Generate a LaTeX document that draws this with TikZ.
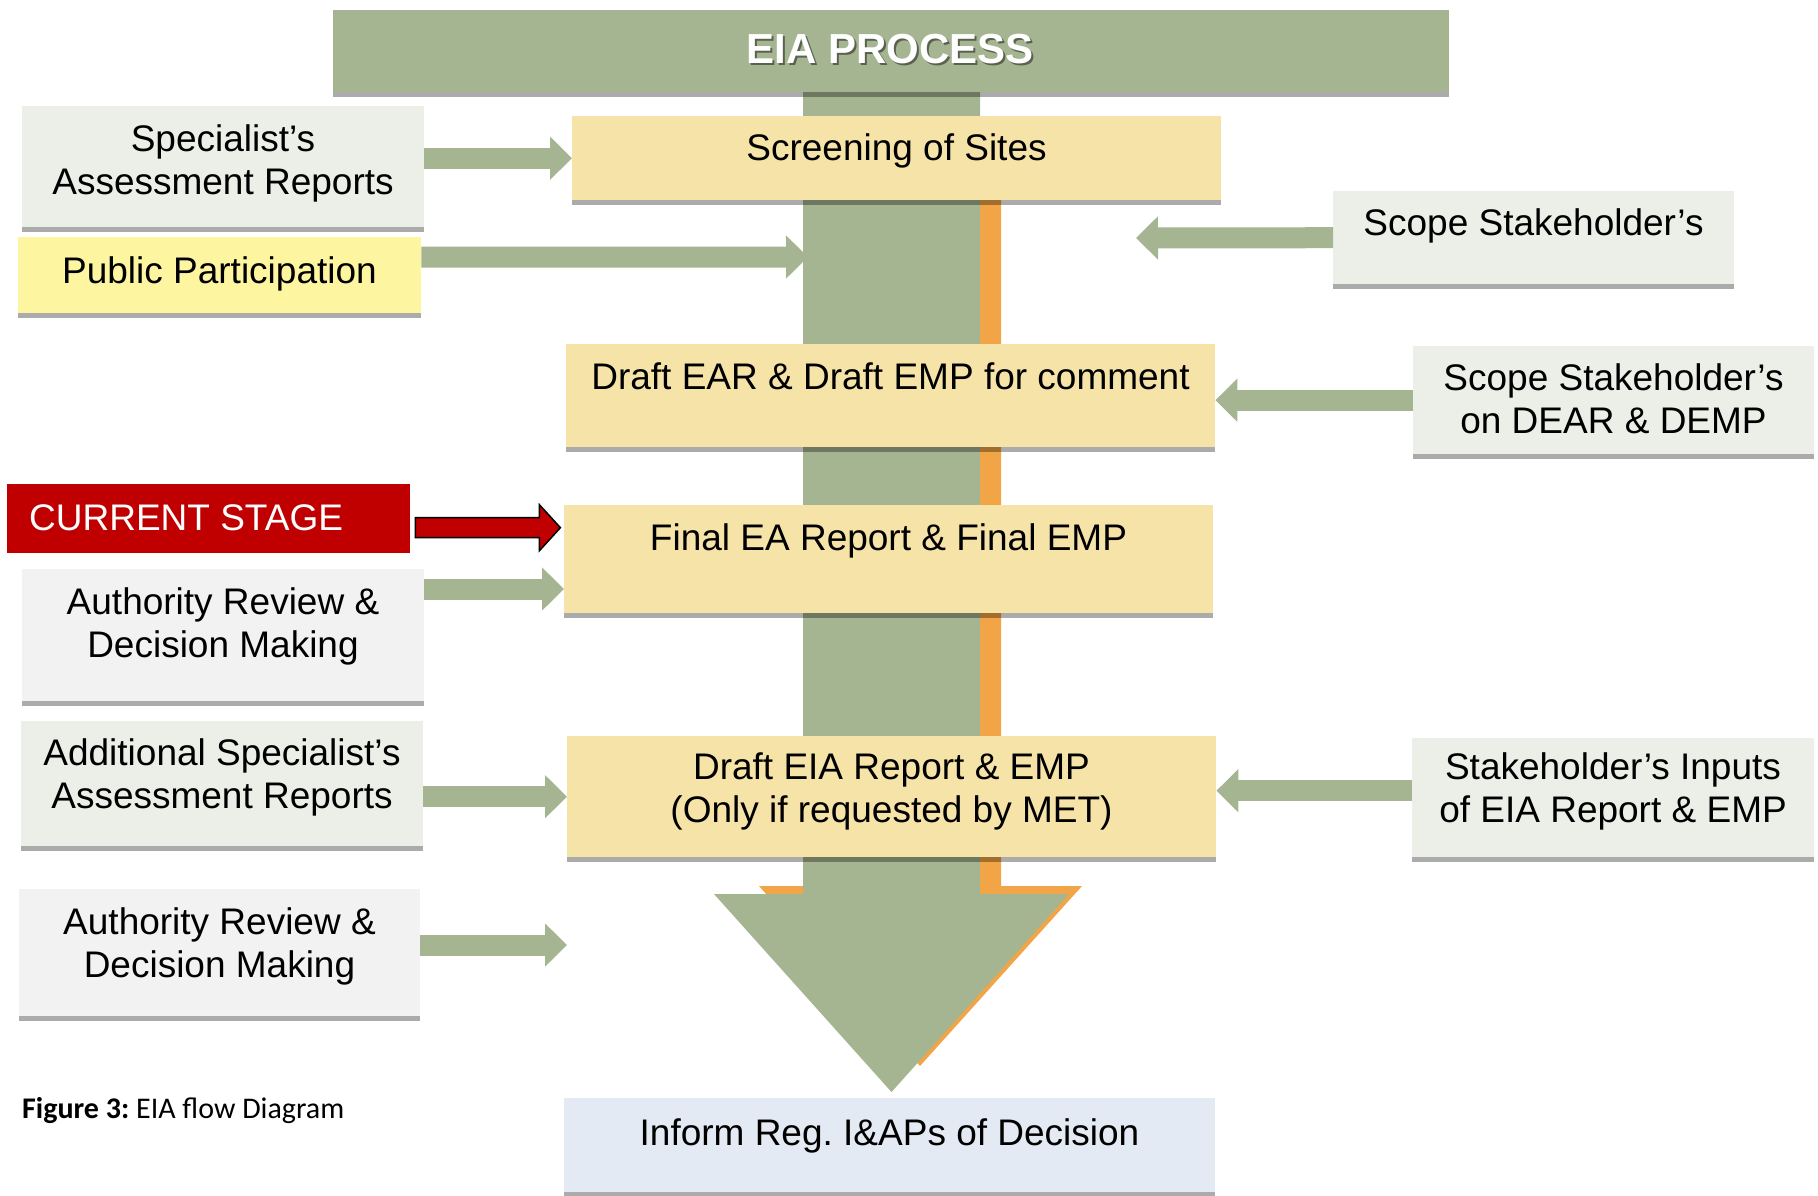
\documentclass[tikz,border=0pt]{standalone}
\usepackage{fontspec}
\setmainfont{Liberation Sans}
\newfontfamily\capfont{Carlito}
\usetikzlibrary{arrows.meta,shadows}
\definecolor{sage}{RGB}{165,180,145}
\definecolor{cream}{RGB}{245,227,168}
\definecolor{mist}{RGB}{236,238,232}
\definecolor{paper}{RGB}{242,242,242}
\definecolor{lemon}{RGB}{253,245,160}
\definecolor{ice}{RGB}{228,234,243}
\definecolor{stagered}{RGB}{192,0,0}
\definecolor{amber}{RGB}{242,165,70}
\frenchspacing
\begin{document}
\begin{tikzpicture}[x=1pt, y=-1pt,
    box/.style={anchor=north west, inner sep=0pt,
      general shadow={fill=black, opacity=.33, shadow yshift=-5pt}},
    txt/.style={anchor=base, align=center, inner sep=0pt, font=\fontsize{37}{43}\selectfont},
    flow/.style={draw=sage, line width=21pt, -{Triangle[width=42pt, length=22pt]}}]
        \useasboundingbox (0,0) rectangle (1818,1195);
        \fill[amber] (830,170) -- (1001,170) -- (1001,886) -- (1082,886) -- (920,1066) -- (759,886) -- (830,886) -- cycle;
        \fill[sage] (803,60) -- (980,60) -- (980,894) -- (1069,894) -- (891.5,1092) -- (714,894) -- (803,894) -- cycle;
        \node(head)    at ( 333,  10) [box, fill=sage,     minimum width=1116pt, minimum height=82pt]  {};
        \node(screen)  at ( 572, 116) [box, fill=cream,    minimum width=649pt,  minimum height=84pt]  {};
        \node(draftear) at (566, 344) [box, fill=cream,    minimum width=649pt,  minimum height=103pt] {};
        \node(final)   at ( 564, 505) [box, fill=cream,    minimum width=649pt,  minimum height=108pt] {};
        \node(drafteia) at (567, 736) [box, fill=cream,    minimum width=649pt,  minimum height=121pt] {};
        \node(inform)  at ( 564,1098) [box, fill=ice,      minimum width=651pt,  minimum height=94pt]  {};
        \node(spec)    at (  22, 106) [box, fill=mist,     minimum width=402pt,  minimum height=121pt] {};
        \node(pp)      at (  18, 237) [box, fill=lemon,    minimum width=403pt,  minimum height=76pt]  {};
        \node(current) at (   7, 484) [anchor=north west, inner sep=0pt, fill=stagered, minimum width=403pt, minimum height=69pt] {};
        \node(auth1)   at (  22, 569) [box, fill=paper,    minimum width=402pt,  minimum height=132pt] {};
        \node(addl)    at (  21, 721) [box, fill=mist,     minimum width=402pt,  minimum height=125pt] {};
        \node(auth2)   at (  19, 889) [box, fill=paper,    minimum width=401pt,  minimum height=127pt] {};
        \node(scope1)  at (1333, 191) [box, fill=mist,     minimum width=401pt,  minimum height=93pt]  {};
        \node(scope2)  at (1413, 346) [box, fill=mist,     minimum width=401pt,  minimum height=108pt] {};
        \node(inputs)  at (1412, 738) [box, fill=mist,     minimum width=402pt,  minimum height=119pt] {};
        \coordinate(stemL)     at ( 808, 257);
        \coordinate(scopetip)  at (1136, 238);
        \coordinate(auth2tip)  at ( 567, 945);
        \coordinate(a1)        at ([yshift=-20pt]auth1.north east);
        \coordinate(r0)        at ([xshift=5pt, yshift=-9pt]current.east);
        \draw[flow] (spec.east |- screen.west) -- (screen.west);
        \draw[flow] ([yshift=18pt]pp.east) -- (stemL);
        \draw[flow] (scope1.west) -- (scopetip);
        \draw[flow] (scope2.west) -- (scope2.west -| draftear.east);
        \draw[flow] (a1) -- (a1 -| final.west);
        \draw[flow] (addl.east |- drafteia.west) -- (drafteia.west);
        \draw[flow] (auth2.east |- auth2tip) -- (auth2tip);
        \draw[flow] ([yshift=7pt]inputs.west) -- ([yshift=7pt]inputs.west -| drafteia.east);
        \draw[black, fill=stagered, line width=1.5pt] (r0) ++(0,-10) -- ++(124,0) -- ++(0,-13) -- ++(21,23) -- ++(-21,23) -- ++(0,-13) -- ++(-124,0) -- cycle;
        \node(headshade) at (892.5,65) [anchor=base, inner sep=0pt, text=black, opacity=.45, font=\bfseries\fontsize{42}{50}\selectfont] {EIA PROCESS};
        \node(headtxt)   at (890.5,63) [anchor=base, inner sep=0pt, text=white, font=\bfseries\fontsize{42}{50}\selectfont] {EIA PROCESS};
        \node(screentxt) at (896.5, 160) [txt] {Screening of Sites};
        \node(dearxt)    at (890.5, 389) [txt] {Draft EAR \& Draft EMP for comment};
        \node(finaltxt)  at (888.5, 550) [txt] {Final EA Report \& Final EMP};
        \node(deiatxt)   at (891.5, 822) [txt] {Draft EIA Report \& EMP\\(Only if requested by MET)};
        \node(informtxt) at (889.5,1145) [txt] {Inform Reg. I\&APs of Decision};
        \node(spectxt)   at (223, 194) [txt] {Specialist’s\\Assessment Reports};
        \node(pptxt)     at (219.5, 283) [txt] {Public Participation};
        \node(currtxt)   at (29, 530) [txt, anchor=base west, text=white] {CURRENT STAGE};
        \node(auth1txt)  at (223, 657) [txt] {Authority Review \&\\Decision Making};
        \node(addltxt)   at (222, 808) [txt] {Additional Specialist’s\\Assessment Reports};
        \node(auth2txt)  at (219.5, 977) [txt] {Authority Review \&\\Decision Making};
        \node(scope1txt) at (1533.5, 235) [txt] {Scope Stakeholder’s};
        \node(scope2txt) at (1613.5, 433) [txt] {Scope Stakeholder’s\\on DEAR \& DEMP};
        \node(inputstxt) at (1613, 822) [txt] {Stakeholder’s Inputs\\of EIA Report \& EMP};
        \node(caption)   at (22,1118) [anchor=base west, inner sep=0pt, font=\capfont\fontsize{30}{36}\selectfont] {\textbf{Figure 3:} EIA flow Diagram};
    \end{tikzpicture}
\end{document}
